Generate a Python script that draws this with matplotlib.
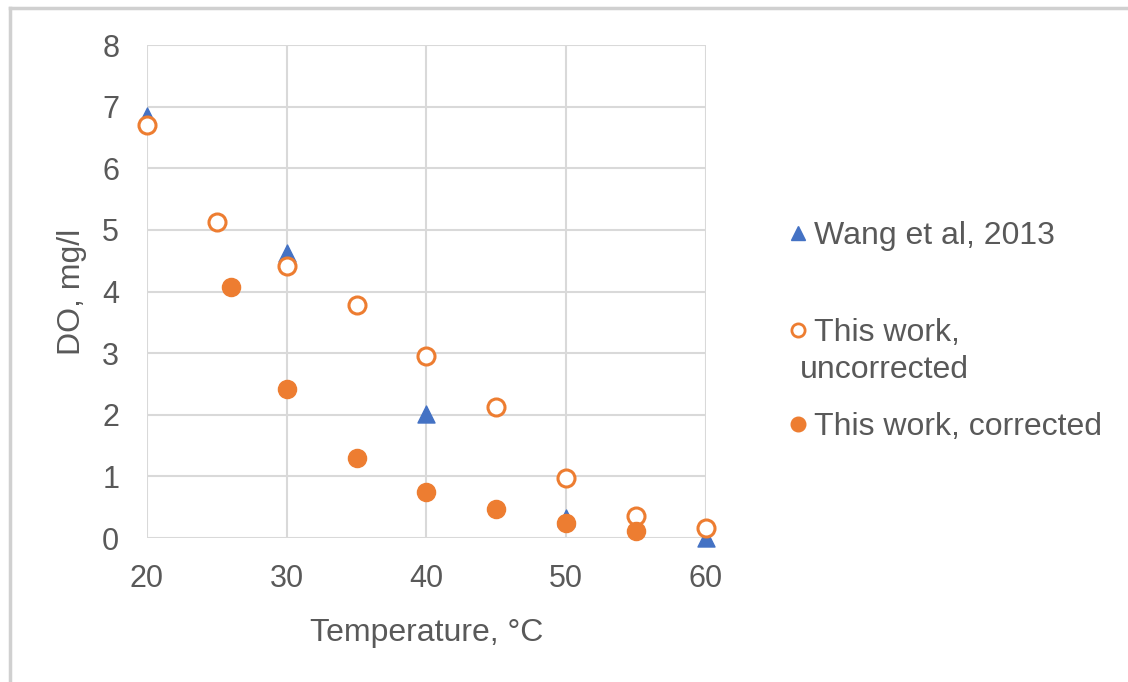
import matplotlib
matplotlib.use('Agg')
import matplotlib.pyplot as plt
from matplotlib.lines import Line2D

plt.rcParams['font.family'] = ['Liberation Sans', 'DejaVu Sans']

BLUE = '#4472C4'
ORANGE = '#ED7D31'
TXT = '#595959'
GRID = '#D9D9D9'

# data
wang_t = [20, 30, 40, 50, 60]
wang_do = [6.85, 4.63, 2.01, 0.32, 0.0]

uncorr_t = [20, 25, 30, 35, 40, 45, 50, 55, 60]
uncorr_do = [6.70, 5.13, 4.42, 3.78, 2.95, 2.12, 0.98, 0.35, 0.17]

corr_t = [26, 30, 35, 40, 45, 50, 55]
corr_do = [4.07, 2.42, 1.30, 0.74, 0.47, 0.25, 0.12]

xticks = [20, 30, 40, 50, 60]
yticks = [0, 1, 2, 3, 4, 5, 6, 7, 8]

fig = plt.figure(figsize=(11.28, 6.82), dpi=100)
ax = fig.add_axes([0.1303, 0.2111, 0.4956, 0.7229])

ax.scatter(wang_t, wang_do, marker='^', s=150, color=BLUE, zorder=3, clip_on=False)
ax.scatter(uncorr_t, uncorr_do, marker='o', s=150, facecolor='white',
           edgecolor=ORANGE, linewidth=2.2, zorder=4, clip_on=False)
ax.scatter(corr_t, corr_do, marker='o', s=170, color=ORANGE, zorder=5, clip_on=False)

ax.set_xlim(20, 60)
ax.set_ylim(0, 8)
ax.set_xticks(xticks)
ax.set_yticks(yticks)
ax.grid(True, color=GRID, lw=1.5)
ax.set_axisbelow(True)
for s in ax.spines.values():
    s.set_visible(False)
ax.tick_params(length=0, labelsize=22, labelcolor=TXT)
ax.tick_params(axis='x', pad=19)
ax.tick_params(axis='y', pad=20)
ax.set_xlabel('Temperature, °C', fontsize=23, color=TXT, labelpad=17)
ax.set_ylabel('DO, mg/l', fontsize=23, color=TXT, labelpad=11)

# legend, one block per entry to follow the uneven spacing
def legend_entry(handle, label, y):
    return fig.legend([handle], [label], loc='center left', bbox_to_anchor=(0.685, y),
                      frameon=False, fontsize=23, labelcolor=TXT, handletextpad=0.2,
                      handlelength=0.6, borderpad=0, labelspacing=0)

legend_entry(Line2D([], [], ls='none', marker='^', ms=10, color=BLUE),
             'Wang et al, 2013', 0.654)
legend_entry(Line2D([], [], ls='none', marker='o', ms=9.5, mfc='white', mec=ORANGE, mew=2),
             'This work,', 0.512)
fig.text(0.709, 0.458, 'uncorrected', fontsize=23, color=TXT, va='center')
legend_entry(Line2D([], [], ls='none', marker='o', ms=10.5, color=ORANGE),
             'This work, corrected', 0.374)

# chart frame (top and left edges visible)
fig.add_artist(Line2D([0.009, 1.0], [0.988, 0.988], color='#D0D0D0', lw=2.5))
fig.add_artist(Line2D([0.009, 0.009], [0.0, 0.988], color='#D0D0D0', lw=2.5))

fig.savefig('out.png', dpi=100)
